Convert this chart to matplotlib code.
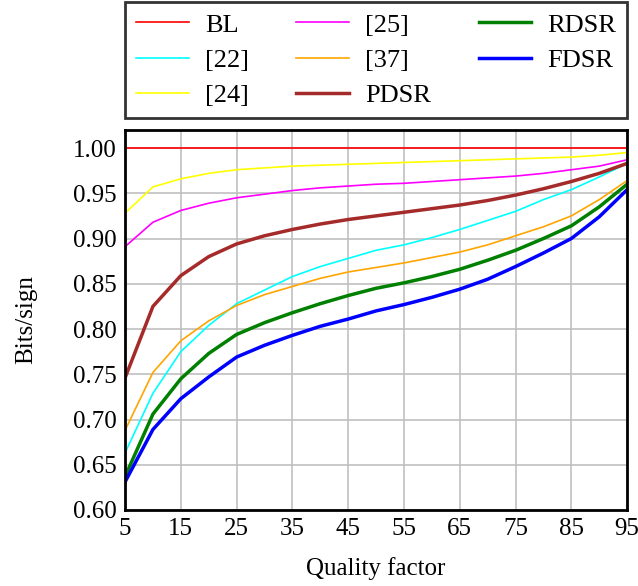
import matplotlib
matplotlib.use('Agg')
import matplotlib.pyplot as plt

plt.rcParams['font.family'] = ['Liberation Serif', 'DejaVu Serif']

quality = [5, 10, 15, 20, 25, 30, 35, 40, 45, 50, 55, 60, 65, 70, 75, 80, 85, 90, 95]

bl = [1.0] * 19
ref22 = [0.663, 0.729, 0.775, 0.804, 0.828, 0.843, 0.858, 0.869, 0.878, 0.887, 0.893, 0.901, 0.910, 0.920, 0.930, 0.943, 0.954, 0.968, 0.983]
ref24 = [0.928, 0.957, 0.966, 0.972, 0.976, 0.978, 0.980, 0.981, 0.982, 0.983, 0.984, 0.985, 0.986, 0.987, 0.988, 0.989, 0.990, 0.992, 0.995]
ref25 = [0.891, 0.918, 0.931, 0.939, 0.945, 0.949, 0.953, 0.956, 0.958, 0.960, 0.961, 0.963, 0.965, 0.967, 0.969, 0.972, 0.976, 0.980, 0.987]
ref37 = [0.688, 0.752, 0.787, 0.809, 0.826, 0.838, 0.847, 0.856, 0.863, 0.868, 0.873, 0.879, 0.885, 0.893, 0.903, 0.913, 0.925, 0.943, 0.964]
pdsr = [0.746, 0.825, 0.859, 0.880, 0.894, 0.903, 0.910, 0.916, 0.921, 0.925, 0.929, 0.933, 0.937, 0.942, 0.948, 0.955, 0.963, 0.972, 0.983]
rdsr = [0.637, 0.706, 0.745, 0.773, 0.794, 0.807, 0.818, 0.828, 0.837, 0.845, 0.851, 0.858, 0.866, 0.876, 0.887, 0.900, 0.914, 0.935, 0.960]
fdsr = [0.631, 0.689, 0.723, 0.747, 0.769, 0.782, 0.793, 0.803, 0.811, 0.820, 0.827, 0.835, 0.844, 0.855, 0.869, 0.884, 0.900, 0.924, 0.954]

fig = plt.figure(figsize=(6.38, 5.86), dpi=100)
ax = fig.add_axes([0.196, 0.1297, 0.787, 0.6486])

ax.plot(quality, bl, color='red', lw=1.2, label='BL')
ax.plot(quality, ref22, color='cyan', lw=1.2, label='[22]')
ax.plot(quality, ref24, color='yellow', lw=1.2, label='[24]')
ax.plot(quality, ref25, color='magenta', lw=1.2, label='[25]')
ax.plot(quality, ref37, color='orange', lw=1.2, label='[37]')
ax.plot(quality, pdsr, color='brown', lw=2.5, label='PDSR')
ax.plot(quality, rdsr, color='green', lw=2.5, label='RDSR')
ax.plot(quality, fdsr, color='blue', lw=2.5, label='FDSR')

ax.set_xlim(5, 95)
ax.set_ylim(0.6, 1.02)
ax.set_xticks(range(5, 96, 10))
ax.set_yticks([0.60, 0.65, 0.70, 0.75, 0.80, 0.85, 0.90, 0.95, 1.00])
ax.set_yticklabels(['%.2f' % v for v in ax.get_yticks()])
ax.grid(True, color='#c0c0c0', lw=1.2)
ax.set_axisbelow(True)
for s in ax.spines.values():
    s.set_linewidth(2)
ax.tick_params(labelsize=18, length=0, pad=6)
ax.set_xlabel('Quality factor', fontsize=18, labelpad=12)
ax.set_ylabel('Bits/sign', fontsize=18, labelpad=26)

leg = fig.legend(loc='upper left', bbox_to_anchor=(0.196, 0.80, 0.787, 0.1966),
                 mode='expand', ncol=3, fontsize=19, frameon=True, fancybox=False,
                 edgecolor='black', handlelength=2.0, handletextpad=0.6,
                 borderaxespad=0, labelspacing=0.45, borderpad=0.42)
leg.get_frame().set_linewidth(2)

fig.savefig('out.png', dpi=100)
